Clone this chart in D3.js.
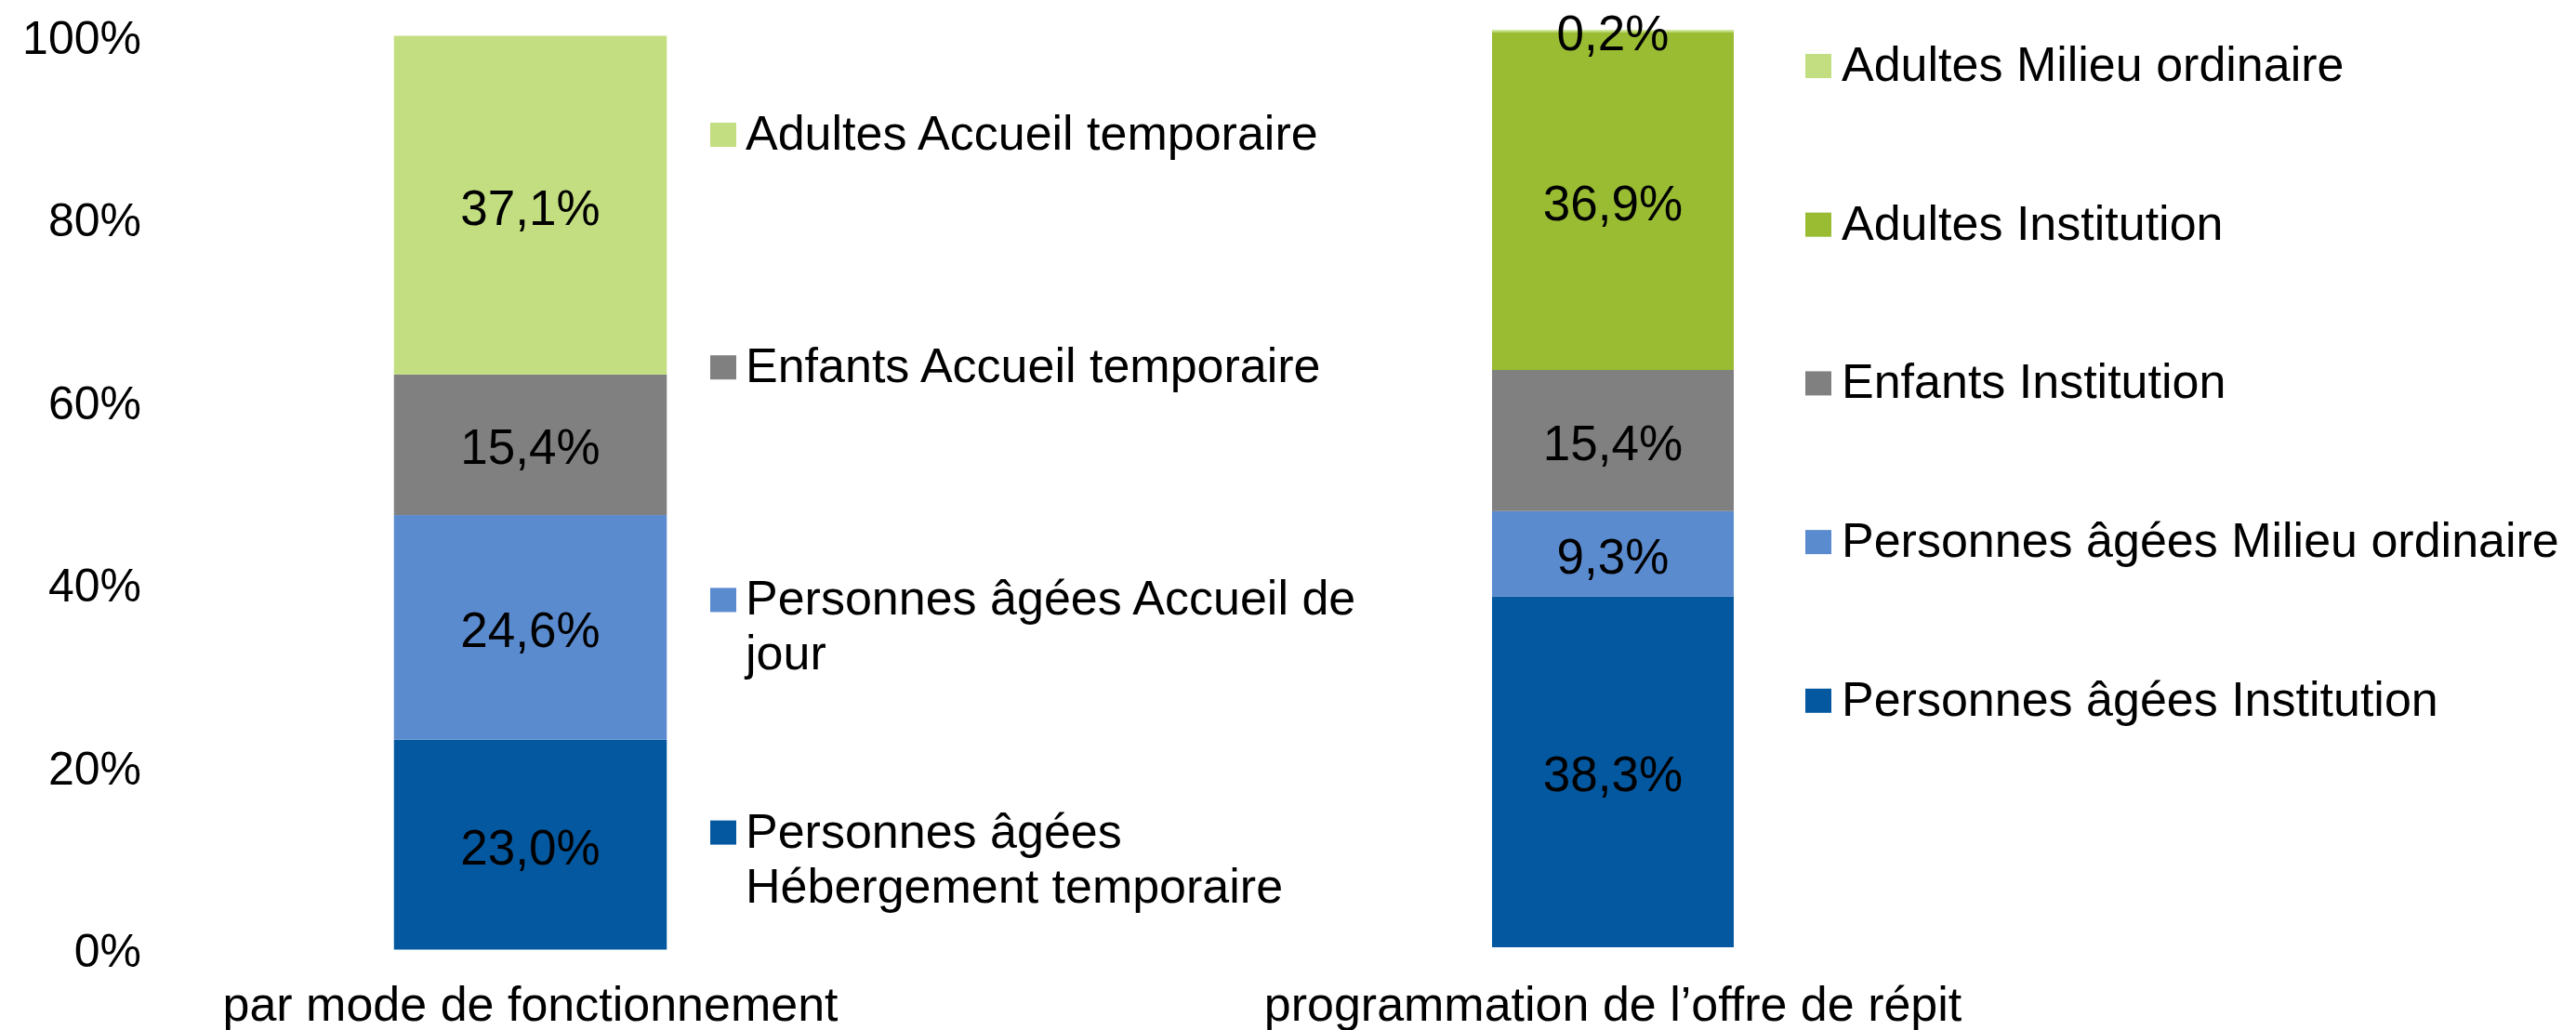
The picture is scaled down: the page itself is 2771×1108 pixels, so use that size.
<!DOCTYPE html>
<html>
<head>
<meta charset="utf-8">
<script src="https://cdn.jsdelivr.net/npm/d3@7"></script>
<style>
  body { margin: 0; background: #fff; }
  svg { display: block; }
  text { font-family: "Liberation Sans", Arial, sans-serif; fill: #000; }
</style>
</head>
<body>
<script>
"use strict"

// left panel: par mode de fonctionnement (bottom -> top)
const left_category = 'par mode de fonctionnement'
const left_series = [
   'Personnes âgées Hébergement temporaire',
   'Personnes âgées Accueil de jour',
   'Enfants Accueil temporaire',
   'Adultes Accueil temporaire'
]
const left_values = [0.230, 0.246, 0.154, 0.371]
const left_labels = ['23,0%', '24,6%', '15,4%', '37,1%']
const left_legend = [
   ['Adultes Accueil temporaire'],
   ['Enfants Accueil temporaire'],
   ['Personnes âgées Accueil de', 'jour'],
   ['Personnes âgées', 'Hébergement temporaire']
]

// right panel: programmation de l'offre de répit (bottom -> top)
const right_category = 'programmation de l’offre de répit'
const right_series = [
   'Personnes âgées Institution',
   'Personnes âgées Milieu ordinaire',
   'Enfants Institution',
   'Adultes Institution',
   'Adultes Milieu ordinaire'
]
const right_values = [0.383, 0.093, 0.154, 0.369, 0.002]
const right_labels = ['38,3%', '9,3%', '15,4%', '36,9%', '0,2%']
const right_legend = [
   ['Adultes Milieu ordinaire'],
   ['Adultes Institution'],
   ['Enfants Institution'],
   ['Personnes âgées Milieu ordinaire'],
   ['Personnes âgées Institution']
]

const y_ticks = [0, 0.2, 0.4, 0.6, 0.8, 1]

const colors = {
   'Personnes âgées Hébergement temporaire': '#0458a0',
   'Personnes âgées Accueil de jour': '#5b8bcf',
   'Enfants Accueil temporaire': '#808080',
   'Adultes Accueil temporaire': '#c3de80',
   'Personnes âgées Institution': '#0458a0',
   'Personnes âgées Milieu ordinaire': '#5b8bcf',
   'Enfants Institution': '#808080',
   'Adultes Institution': '#99bc33',
   'Adultes Milieu ordinaire': '#c3de80'
}

const w = 2771
const h = 1108

let svg = d3.select('body')
   .append('svg')
      .attr('width', w)
      .attr('height', h)

// y scales, one per panel (the right one runs a touch higher)
const y_left = d3.scaleLinear([0, 1], [1021.5, 39.5])
const y_right = d3.scaleLinear([0, 1], [1019, 33.3])

const y_axis = d3.axisLeft(y_left)
   .tickValues(y_ticks)
   .tickFormat(d => `${Math.round(d * 100)}%`)
   .tickSize(0)
   .tickPadding(0)

let ax = svg.append('g')
   .attr('transform', 'translate(152, 0)')
   .call(y_axis)
ax.select('.domain').remove()
ax.selectAll('text')
   .attr('font-family', null)
   .style('font-size', '50px')
   .attr('dy', null)
   .attr('y', 18)

function panel(category, series, values, labels, legend, x_range, y_scale, leg) {
   const x_scale = d3.scaleBand([category], x_range)
      .paddingInner(0)
      .paddingOuter(0.5)

   const row = {}
   series.forEach((s, i) => row[s] = values[i])
   const stacked = d3.stack().keys(series)([row])

   let g = svg.append('g')

   g.selectAll('rect')
      .data(stacked)
      .enter()
      .append('rect')
         .attr('x', x_scale(category))
         .attr('width', x_scale.bandwidth())
         .attr('y', d => y_scale(d[0][1]))
         .attr('height', d => y_scale(d[0][0]) - y_scale(d[0][1]))
         .attr('fill', d => colors[d.key])

   g.selectAll('text.val')
      .data(stacked)
      .enter()
      .append('text')
         .attr('class', 'val')
         .attr('x', x_scale(category) + x_scale.bandwidth() / 2)
         .attr('y', d => y_scale((d[0][0] + d[0][1]) / 2) + 21)
         .attr('text-anchor', 'middle')
         .style('font-size', '53px')
         .text((d, i) => labels[i])

   const cat_axis = d3.axisBottom(x_scale).tickSize(0).tickPadding(0)
   let cx = g.append('g')
      .attr('transform', 'translate(0, 1098)')
      .call(cat_axis)
   cx.select('.domain').remove()
   cx.selectAll('text')
      .attr('font-family', null)
      .attr('dy', null)
      .attr('y', 0)
      .style('font-size', '52px')

   // legend, top item first
   let items = g.selectAll('g.leg')
      .data(legend)
      .enter()
      .append('g')
         .attr('class', 'leg')
         .attr('transform', (d, i) => `translate(${leg.x}, ${leg.y0 + i * leg.step})`)

   items.append('rect')
      .attr('x', 0)
      .attr('y', -13)
      .attr('width', 28)
      .attr('height', 26)
      .attr('fill', (d, i) => colors[series[series.length - 1 - i]])

   items.append('text')
      .attr('x', leg.text_dx)
      .attr('y', 16)
      .style('font-size', '52px')
      .selectAll('tspan')
      .data(d => d)
      .enter()
      .append('tspan')
         .attr('x', leg.text_dx)
         .attr('dy', (d, i) => i === 0 ? 0 : 59)
         .text(d => d)
}

panel(left_category, left_series, left_values, left_labels, left_legend,
   [277, 864], y_left, { x: 764, y0: 145, step: 250.2, text_dx: 38 })

panel(right_category, right_series, right_values, right_labels, right_legend,
   [1475, 1995], y_right, { x: 1942, y0: 71, step: 170.7, text_dx: 39 })
</script>
</body>
</html>
